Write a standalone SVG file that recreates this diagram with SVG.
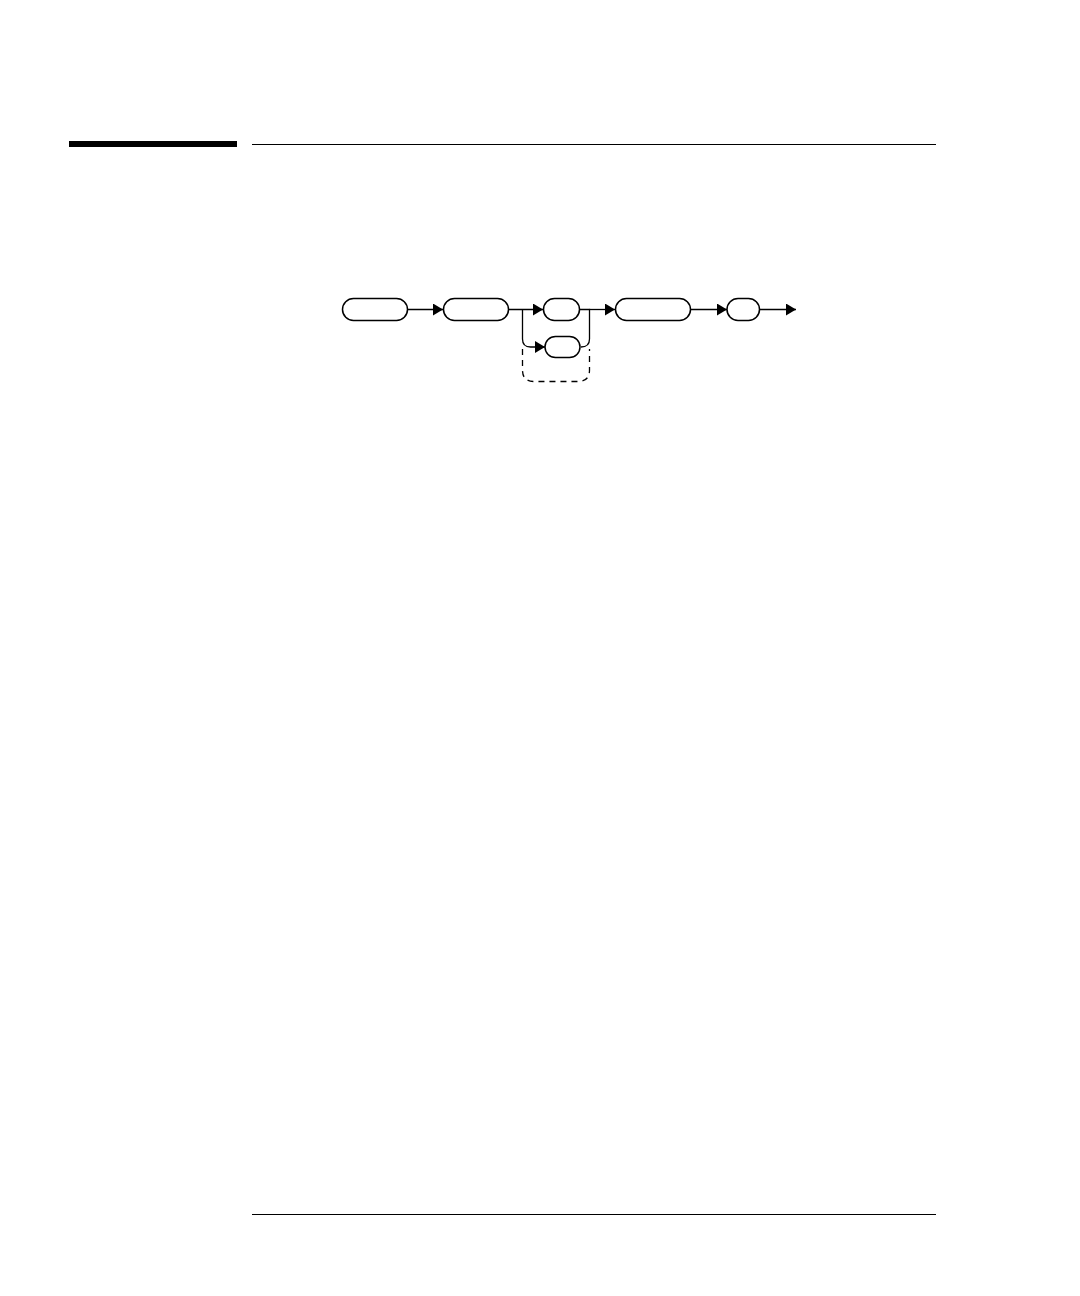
<svg xmlns="http://www.w3.org/2000/svg" width="1080" height="1296" viewBox="0 0 1080 1296">
<defs>
<style>
.box{fill:#fff;stroke:#000;stroke-width:1.5}
.ln{fill:none;stroke:#000;stroke-width:1.3}
.dash{fill:none;stroke:#000;stroke-width:1.3;stroke-dasharray:6,5}
</style>
<marker id="ah" markerWidth="10" markerHeight="12" refX="10" refY="6" orient="auto" markerUnits="userSpaceOnUse">
<path d="M0,0 L10,6 L0,12 Z" fill="#000"/>
</marker>
</defs>
<rect width="1080" height="1296" fill="#fff"/>
<g id="header">
<rect x="69" y="141" width="168" height="6" fill="#000"/>
<line x1="252" y1="144.5" x2="936" y2="144.5" stroke="#000" stroke-width="1.2"/>
</g>
<g id="footer">
<line x1="252" y1="1214.5" x2="936" y2="1214.5" stroke="#000" stroke-width="1.2"/>
</g>
<g id="connectors">
<line class="ln" x1="407" y1="309.5" x2="443" y2="309.5" marker-end="url(#ah)"/>
<line class="ln" x1="508" y1="309.5" x2="543" y2="309.5" marker-end="url(#ah)"/>
<path class="ln" d="M522.5,309.5 V339 Q522.5,347 530.5,347 H545" marker-end="url(#ah)"/>
<path class="ln" d="M579.5,309.5 H589.5 V339 Q589.5,347 581,347"/>
<line class="ln" x1="589.5" y1="309.5" x2="615" y2="309.5" marker-end="url(#ah)"/>
<line class="ln" x1="690.5" y1="309.5" x2="727" y2="309.5" marker-end="url(#ah)"/>
<line class="ln" x1="759.5" y1="309.5" x2="796" y2="309.5" marker-end="url(#ah)"/>
<path class="dash" d="M522.5,349 V370 Q522.5,381.5 534,381.5 H578 Q589.5,381.5 589.5,370 V349"/>
</g>
<g id="node1"><rect class="box" x="342.5" y="298.5" width="65" height="22" rx="11"/></g>
<g id="node2"><rect class="box" x="443.5" y="298.5" width="65" height="22" rx="11"/></g>
<g id="node3"><rect class="box" x="543.5" y="298.5" width="36" height="22" rx="11"/></g>
<g id="node4"><rect class="box" x="545" y="336.5" width="35" height="21" rx="10.5"/></g>
<g id="node5"><rect class="box" x="615.5" y="298.5" width="75" height="22" rx="11"/></g>
<g id="node6"><rect class="box" x="727" y="298.5" width="32.5" height="22" rx="11"/></g>
</svg>
